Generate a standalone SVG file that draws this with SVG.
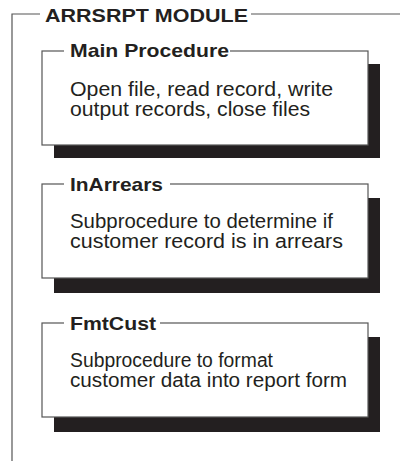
<svg xmlns="http://www.w3.org/2000/svg" width="400" height="461" viewBox="0 0 400 461">
<style>
.frame{fill:none;stroke:#555;stroke-width:1.2}
.box{fill:#fff;stroke:#555;stroke-width:1.2}
.shadow{fill:#231f20}
.title{font-family:"Liberation Sans",Arial,sans-serif;font-weight:bold;font-size:19px;fill:#231f20}
.body{font-family:"Liberation Sans",Arial,sans-serif;font-size:20px;fill:#231f20}
</style>
<rect width="400" height="461" fill="#fff"/>
<g id="module">
<path class="frame" d="M40,14 H12 V461 M251,14 H400"/>
<text class="title" x="45" y="22" textLength="203" lengthAdjust="spacingAndGlyphs">ARRSRPT MODULE</text>
</g>
<g id="main">
<rect class="shadow" x="54" y="64" width="326" height="94"/>
<rect class="box" x="42" y="51" width="326" height="94"/>
<rect x="64" y="48" width="166" height="6" fill="#fff"/>
<text class="title" x="70" y="57" textLength="159" lengthAdjust="spacingAndGlyphs">Main Procedure</text>
<text class="body" x="70" y="96" textLength="263" lengthAdjust="spacingAndGlyphs">Open file, read record, write</text>
<text class="body" x="70" y="116" textLength="240" lengthAdjust="spacingAndGlyphs">output records, close files</text>
</g>
<g id="inarrears">
<rect class="shadow" x="54" y="198" width="326" height="95"/>
<rect class="box" x="42" y="184" width="326" height="94"/>
<rect x="64" y="181" width="106" height="6" fill="#fff"/>
<text class="title" x="70" y="191" textLength="93" lengthAdjust="spacingAndGlyphs">InArrears</text>
<text class="body" x="70" y="228" textLength="263" lengthAdjust="spacingAndGlyphs">Subprocedure to determine if</text>
<text class="body" x="70" y="248" textLength="273" lengthAdjust="spacingAndGlyphs">customer record is in arrears</text>
</g>
<g id="fmtcust">
<rect class="shadow" x="54" y="337" width="326" height="95"/>
<rect class="box" x="42" y="323" width="326" height="94"/>
<rect x="64" y="320" width="96" height="6" fill="#fff"/>
<text class="title" x="70" y="330" textLength="86" lengthAdjust="spacingAndGlyphs">FmtCust</text>
<text class="body" x="70" y="367" textLength="203" lengthAdjust="spacingAndGlyphs">Subprocedure to format</text>
<text class="body" x="70" y="387" textLength="277" lengthAdjust="spacingAndGlyphs">customer data into report form</text>
</g>
<g id="connectors"></g>
</svg>
